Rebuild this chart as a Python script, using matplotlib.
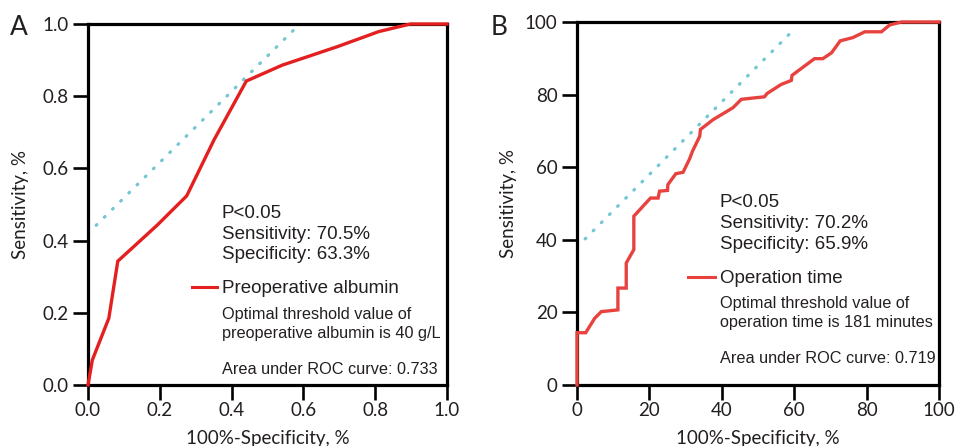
import numpy as np
import matplotlib
matplotlib.use("Agg")
import matplotlib.pyplot as plt

# Panel A: preoperative albumin ROC (fraction scale)
a_fpr = [0.0, 0.012, 0.058, 0.083, 0.193, 0.275, 0.351, 0.441, 0.541, 0.610, 0.694, 0.810, 0.898, 1.0]
a_tpr = [0.0, 0.069, 0.185, 0.343, 0.443, 0.524, 0.679, 0.842, 0.886, 0.909, 0.937, 0.979, 1.0, 1.0]
a_ref_x = [0.0, 0.59]
a_ref_y = [0.42, 1.0]

# Panel B: operation time ROC (percent scale)
b_fpr = [0, 0, 2.4, 4.9, 6.7, 11.3, 11.3, 13.6, 13.6, 15.7, 15.7, 20.3, 22.4, 22.8, 25.0, 25.1,
         27.3, 29.3, 31.1, 31.9, 33.9, 34.1, 37.6, 43.1, 45.4, 51.8, 52.5, 56.4, 59.2, 59.4,
         65.6, 67.9, 70.3, 72.7, 76.2, 79.5, 84.1, 86.4, 89.6, 100]
b_tpr = [0, 14.4, 14.4, 18.4, 20.2, 20.7, 26.7, 26.7, 33.6, 37.3, 46.5, 51.5, 51.5, 53.4, 53.6, 55.2,
         58.2, 58.6, 62.3, 64.4, 68.5, 70.4, 73.1, 76.4, 78.7, 79.4, 80.3, 82.8, 83.9, 85.3,
         89.9, 89.9, 91.5, 94.8, 95.7, 97.3, 97.3, 99.2, 100, 100]
b_ref_x = [0, 60]
b_ref_y = [38, 98]

a_ticks = [0.0, 0.2, 0.4, 0.6, 0.8, 1.0]
a_ticklabels = ["0.0", "0.2", "0.4", "0.6", "0.8", "1.0"]
b_ticks = [0, 20, 40, 60, 80, 100]
b_ticklabels = ["0", "20", "40", "60", "80", "100"]

txt_color = "#231f20"
tick_font = "Lato"
ann_font = "Liberation Sans"

fig = plt.figure(figsize=(9.59, 4.46), dpi=100)
axA = fig.add_axes([88 / 959, 1 - 385 / 446, 359 / 959, 361 / 446])
axB = fig.add_axes([577 / 959, 1 - 385 / 446, 362 / 959, 363 / 446])


def style_axes(ax, ticks, labels, lim):
    ax.set_xlim(lim)
    ax.set_ylim(lim)
    for s in ax.spines.values():
        s.set_linewidth(2.3)
        s.set_color("black")
    ax.set_xticks(ticks)
    ax.set_yticks(ticks)
    ax.set_xticklabels(labels, fontfamily=tick_font, fontsize=13.5, color=txt_color)
    ax.set_yticklabels(labels, fontfamily=tick_font, fontsize=13.5, color=txt_color)
    ax.tick_params(axis="both", direction="out", length=10.5, width=1.9, color="black")
    ax.tick_params(axis="x", pad=1.5)
    ax.tick_params(axis="y", pad=3.5)
    ax.set_xlabel("100%-Specificity, %", fontfamily=tick_font, fontsize=13.5, color=txt_color)
    ax.set_ylabel("Sensitivity, %", fontfamily=tick_font, fontsize=13.5, color=txt_color)
    ax.xaxis.set_label_coords(0.5, -0.125)
    ax.yaxis.set_label_coords(-0.165, 0.5)


style_axes(axA, a_ticks, a_ticklabels, (0, 1))
style_axes(axB, b_ticks, b_ticklabels, (0, 100))

dot_color = "#74c7d2"
axA.plot(a_ref_x, a_ref_y, color=dot_color, lw=2.3, ls=(0, (0.3, 3.3)),
         dash_capstyle="round", zorder=2)
axA.plot(a_fpr, a_tpr, color="#e3201f", lw=2.4, clip_on=False, zorder=5,
         solid_joinstyle="miter")
axB.plot(b_ref_x, b_ref_y, color=dot_color, lw=2.3, ls=(0, (0.3, 3.3)),
         dash_capstyle="round", zorder=2)
axB.plot(b_fpr, b_tpr, color="#e8423f", lw=2.4, clip_on=False, zorder=5,
         solid_joinstyle="miter")

# annotations, panel A
big = 13.5
small = 11.7
axA.text(0.373, 0.463, "P<0.05", fontfamily=ann_font, fontsize=big, color=txt_color)
axA.text(0.373, 0.404, "Sensitivity: 70.5%", fontfamily=ann_font, fontsize=big, color=txt_color)
axA.text(0.373, 0.350, "Specificity: 63.3%", fontfamily=ann_font, fontsize=big, color=txt_color)
axA.plot([0.290, 0.359], [0.271, 0.271], color="#e3201f", lw=2.2)
axA.text(0.373, 0.256, "Preoperative albumin", fontfamily=ann_font, fontsize=big, color=txt_color)
axA.text(0.373, 0.183, "Optimal threshold value of", fontfamily=ann_font, fontsize=small, color=txt_color)
axA.text(0.373, 0.131, "preoperative albumin is 40 g/L", fontfamily=ann_font, fontsize=small, color=txt_color)
axA.text(0.373, 0.030, "Area under ROC curve: 0.733", fontfamily=ann_font, fontsize=small, color=txt_color)

# annotations, panel B
axB.text(39.5, 49.1, "P<0.05", fontfamily=ann_font, fontsize=big, color=txt_color)
axB.text(39.5, 43.2, "Sensitivity: 70.2%", fontfamily=ann_font, fontsize=big, color=txt_color)
axB.text(39.5, 37.6, "Specificity: 65.9%", fontfamily=ann_font, fontsize=big, color=txt_color)
axB.plot([30.7, 38.1], [29.8, 29.8], color="#e8423f", lw=2.2)
axB.text(39.5, 28.2, "Operation time", fontfamily=ann_font, fontsize=big, color=txt_color)
axB.text(39.5, 21.1, "Optimal threshold value of", fontfamily=ann_font, fontsize=small, color=txt_color)
axB.text(39.5, 16.1, "operation time is 181 minutes", fontfamily=ann_font, fontsize=small, color=txt_color)
axB.text(39.5, 6.0, "Area under ROC curve: 0.719", fontfamily=ann_font, fontsize=small, color=txt_color)

# panel letters
fig.text(10 / 959, 1 - 35 / 446, "A", fontfamily=tick_font, fontsize=19, color=txt_color)
fig.text(491 / 959, 1 - 35 / 446, "B", fontfamily=tick_font, fontsize=19, color=txt_color)

fig.savefig("out.png", dpi=100)
